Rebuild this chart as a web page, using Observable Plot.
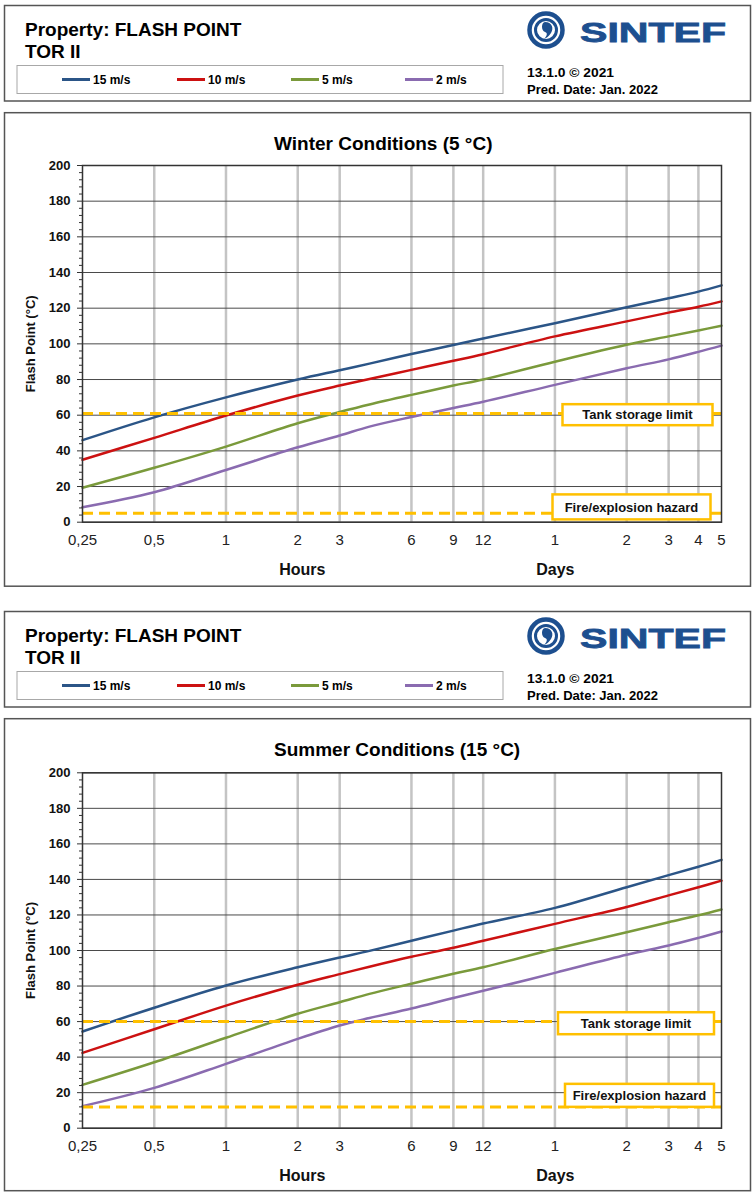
<!DOCTYPE html>
<html><head><meta charset="utf-8">
<script src="https://cdn.jsdelivr.net/npm/d3@7"></script>
<script src="https://cdn.jsdelivr.net/npm/@observablehq/plot@0.6"></script>
<style>
body{margin:0;background:#fff;}
#page{position:relative;width:753px;height:1192px;overflow:hidden;background:#fff;font-family:'Liberation Sans',Arial,sans-serif;}
#page > svg{position:absolute;left:0;}
#page g[aria-label="y-axis tick label"]{font-weight:bold;font-size:13px;}
</style></head><body><div id="page"></div>
<script>
// ---------------- data ----------------
const hours = [0.25, 0.5, 1, 2, 3, 4, 6, 9, 12, 24, 48, 72, 96, 120];
const seriesNames = ["15 m/s", "10 m/s", "5 m/s", "2 m/s"];
const seriesColors = ["#2B5587", "#CC1111", "#7A9A3B", "#8A6BB0"];

const winter15 = [46, 58.8, 70, 80, 85.2, 88.9, 94.3, 99.4, 103, 111.6, 120.5, 125.6, 129.3, 132.8];
const winter10 = [35, 47.3, 59.8, 71, 76.6, 80.3, 85.4, 90.5, 94.2, 104.2, 112.6, 117.5, 120.8, 123.8];
const winter5  = [19.3, 30.5, 42.4, 55.5, 61.8, 66, 71.4, 76.6, 80, 90, 99.5, 104.2, 107.5, 110.2];
const winter2  = [8.4, 16.8, 29.3, 42, 48.6, 53.6, 59, 64, 67.5, 77, 86.3, 91.3, 95.5, 99];

const summer15 = [54.4, 67.8, 80.3, 90.6, 96.1, 99.8, 105.5, 111.2, 115.2, 124, 135.6, 142.4, 147.1, 151];
const summer10 = [42.4, 55.7, 69, 80.7, 86.7, 90.9, 96.5, 101.5, 105.5, 115, 124.5, 131, 135.6, 139.3];
const summer5  = [24.4, 37.1, 50.9, 64.4, 70.9, 75.6, 81.3, 86.9, 90.6, 100.8, 110.3, 115.9, 119.8, 123.1];
const summer2  = [12.4, 22.7, 36.2, 50.3, 57.8, 62, 67.4, 73.3, 77.3, 87.4, 97.6, 102.8, 107.1, 110.7];

const winterLimits = {tank: 61, fire: 5};
const summerLimits = {tank: 60, fire: 12};

const xTicks = [0.25, 0.5, 1, 2, 3, 6, 9, 12, 24, 48, 72, 96, 120];
const xTickLabels = ["0,25", "0,5", "1", "2", "3", "6", "9", "12", "1", "2", "3", "4", "5"];
const yTicks = [0, 20, 40, 60, 80, 100, 120, 140, 160, 180, 200];

const headerTitle = ["Property: FLASH POINT", "TOR II"];
const versionText = ["13.1.0 \u00A9 2021", "Pred. Date: Jan. 2022"];

// ---------------- decoration ----------------
const page = document.getElementById("page");
const deco = d3.create("svg").attr("width", 753).attr("height", 1192).style("top", "0px");
page.appendChild(deco.node());

function header(top) {
  const g = deco.append("g").attr("transform", `translate(0,${top})`);
  g.append("rect").attr("x", 4.5).attr("y", 0.5).attr("width", 746).attr("height", 95.5)
    .attr("fill", "#fff").attr("stroke", "#555").attr("stroke-width", 1.5);
  g.append("text").attr("x", 25).attr("y", 31).text(headerTitle[0])
    .attr("font-size", 19).attr("font-weight", "bold");
  g.append("text").attr("x", 25).attr("y", 52.5).text(headerTitle[1])
    .attr("font-size", 19).attr("font-weight", "bold");
  g.append("rect").attr("x", 17).attr("y", 60.5).attr("width", 486).attr("height", 28)
    .attr("fill", "#fff").attr("stroke", "#a8a8a8").attr("stroke-width", 1);
  const lx = [62, 177, 291, 405];
  seriesNames.forEach((s, i) => {
    g.append("line").attr("x1", lx[i]).attr("x2", lx[i] + 28).attr("y1", 74.5).attr("y2", 74.5)
      .attr("stroke", seriesColors[i]).attr("stroke-width", 3);
    g.append("text").attr("x", lx[i] + 31).attr("y", 79).text(s)
      .attr("font-size", 12).attr("font-weight", "bold");
  });
  const blue = "#1d4f8f";
  const lg = g.append("g").attr("transform", "translate(546,25)");
  lg.append("circle").attr("r", 16.5).attr("fill", "none").attr("stroke", blue).attr("stroke-width", 4.5);
  lg.append("circle").attr("r", 10.5).attr("fill", "none").attr("stroke", blue).attr("stroke-width", 3);
  lg.append("path").attr("d", "M-1,-8 C6,-8 8,-2 5,3 C3,6 1,8 -2,9 C1,6 2,3 -1,2 C-5,1 -5,-8 -1,-8 Z").attr("fill", blue);
  g.append("text").attr("x", 580).attr("y", 37.3).text("SINTEF")
    .attr("font-size", 28).attr("font-weight", "900").attr("fill", blue)
    .attr("stroke", blue).attr("stroke-width", 0.8)
    .attr("textLength", 146).attr("lengthAdjust", "spacingAndGlyphs");
  g.append("text").attr("x", 527).attr("y", 71.7).text(versionText[0])
    .attr("font-size", 13).attr("font-weight", "bold").attr("textLength", 87).attr("lengthAdjust", "spacingAndGlyphs");
  g.append("text").attr("x", 527).attr("y", 89).text(versionText[1])
    .attr("font-size", 13).attr("font-weight", "bold").attr("textLength", 131).attr("lengthAdjust", "spacingAndGlyphs");
}

function chartBox(top, h, title) {
  deco.append("rect").attr("x", 4.5).attr("y", top).attr("width", 746).attr("height", h)
    .attr("fill", "#fff").attr("stroke", "#555").attr("stroke-width", 1.5);
  deco.append("text").attr("x", 274).attr("y", top + 37.5).text(title)
    .attr("font-size", 19).attr("font-weight", "bold");
}

header(5);
chartBox(112.7, 473.5, "Winter Conditions (5 \u00B0C)");
header(611);
chartBox(718.7, 472, "Summer Conditions (15 \u00B0C)");

// ---------------- charts ----------------
function annotationMark(ann) {
  return (index, scales, values, dimensions) => {
    const g = d3.create("svg:g");
    const xr = dimensions.width - dimensions.marginRight;
    ann.forEach(a => {
      const cx = xr + a.dx, cy = scales.y(a.y);
      g.append("rect").attr("x", cx - a.w / 2).attr("y", cy - a.h / 2)
        .attr("width", a.w).attr("height", a.h)
        .attr("fill", "#fff").attr("stroke", "#FFC000").attr("stroke-width", 2.5);
      g.append("text").attr("x", cx).attr("y", cy).attr("dy", "0.36em")
        .attr("text-anchor", "middle").attr("font-size", 13).attr("font-weight", "bold")
        .attr("fill", "#111").text(a.label);
    });
    return g.node();
  };
}

function chart(cfg) {
  const rows = [];
  cfg.values.forEach((vals, k) => hours.forEach((h, i) => rows.push({h, v: vals[i], s: seriesNames[k]})));
  const minor = d3.range(0, 201, 4).filter(d => d % 20 !== 0);
  const svg = Plot.plot({
    width: 753, height: cfg.height,
    marginLeft: 82, marginRight: 32, marginTop: cfg.mt, marginBottom: cfg.mb,
    style: {fontFamily: "'Liberation Sans', Arial, sans-serif", fontSize: "13px", background: "transparent", color: "#111", overflow: "visible"},
    x: {type: "log", domain: [0.25, 120], axis: null},
    y: {domain: [0, 200]},
    color: {domain: seriesNames, range: seriesColors},
    marks: [
      Plot.gridX(xTicks.slice(1, -1), {stroke: "#c4c4c4", strokeWidth: 2.5, strokeOpacity: 1}),
      Plot.gridY(yTicks, {stroke: "#4a4a4a", strokeOpacity: 1, strokeWidth: 1}),
      Plot.line(rows, {x: "h", y: "v", stroke: "s", z: "s", strokeWidth: 2.5, curve: "catmull-rom"}),
      Plot.ruleY([cfg.limits.tank, cfg.limits.fire], {stroke: "#FFC000", strokeWidth: 3, strokeDasharray: "11,6"}),
      Plot.frame({stroke: "#333", strokeWidth: 1.5}),
      Plot.axisY(minor, {tickSize: 3, tickFormat: () => "", label: null, stroke: "#333"}),
      Plot.axisY(yTicks, {tickSize: 5, tickPadding: 7, fontSize: 13, fontWeight: "bold", label: null, stroke: "#333"}),
      Plot.text(xTicks, {x: d => d, text: xTickLabels, frameAnchor: "bottom", lineAnchor: "top",
        dy: 12, fontSize: 15, fill: "#222"}),
      Plot.text(["Hours", "Days"], {x: [2.09, 24.1], frameAnchor: "bottom", dy: 53,
        fontSize: 16, fontWeight: "bold", fill: "#111"}),
      Plot.text(["Flash Point (\u00B0C)"], {frameAnchor: "left", textAnchor: "middle", dx: -52, rotate: -90,
        fontSize: 13, fontWeight: "bold", fill: "#111"}),
      annotationMark(cfg.ann)
    ]
  });
  svg.style.top = cfg.top + "px";
  page.appendChild(svg);
}

chart({
  top: 113, height: 473, mt: 52, mb: 64.3,
  values: [winter15, winter10, winter5, winter2],
  limits: winterLimits,
  ann: [
    {label: "Tank storage limit", y: 60, dx: -83.5, w: 150, h: 21},
    {label: "Fire/explosion hazard", y: 8.3, dx: -89.5, w: 158, h: 25}
  ]
});
chart({
  top: 719, height: 472, mt: 53.3, mb: 63.3,
  values: [summer15, summer10, summer5, summer2],
  limits: summerLimits,
  ann: [
    {label: "Tank storage limit", y: 58.8, dx: -85, w: 156, h: 22},
    {label: "Fire/explosion hazard", y: 18.2, dx: -81.5, w: 149, h: 23}
  ]
});
</script></body></html>
